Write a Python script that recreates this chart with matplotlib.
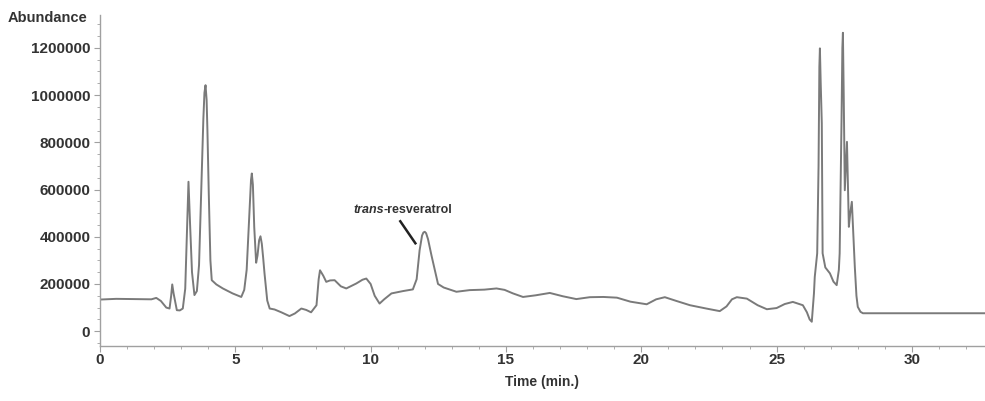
import matplotlib
matplotlib.use("Agg")
import matplotlib.pyplot as plt
from matplotlib.ticker import MultipleLocator

# retention time (min) and abundance
time_min = [0.0, 0.6, 1.2, 1.9, 2.08, 2.25, 2.45, 2.57, 2.63, 2.67, 2.72, 2.84, 2.95,
            3.06, 3.15, 3.22, 3.27, 3.33, 3.40, 3.49, 3.58, 3.66, 3.74, 3.82, 3.86,
            3.90, 3.94, 3.97, 4.02, 4.08, 4.13, 4.30, 4.54, 4.90, 5.22, 5.33, 5.42,
            5.52, 5.58, 5.61, 5.65, 5.70, 5.77, 5.82, 5.88, 5.93, 5.98, 6.03, 6.08,
            6.18, 6.27, 6.45, 6.70, 7.00, 7.20, 7.44, 7.62, 7.80, 8.00, 8.08, 8.13,
            8.25, 8.36, 8.50, 8.67, 8.90, 9.10, 9.47, 9.70, 9.84, 10.00, 10.15, 10.33,
            10.50, 10.77, 11.20, 11.56, 11.70, 11.81, 11.90, 11.95, 12.00, 12.05,
            12.12, 12.25, 12.37, 12.49, 12.70, 13.17, 13.66, 14.20, 14.65, 14.95,
            15.26, 15.63, 16.10, 16.62, 17.10, 17.60, 18.10, 18.60, 19.10, 19.60,
            20.20, 20.55, 20.87, 21.30, 21.80, 22.40, 22.90, 23.15, 23.35, 23.53,
            23.90, 24.30, 24.64, 25.00, 25.30, 25.60, 25.97, 26.12, 26.22, 26.30,
            26.38, 26.41, 26.50, 26.55, 26.58, 26.60, 26.63, 26.67, 26.70, 26.80,
            26.97, 27.10, 27.22, 27.30, 27.33, 27.40, 27.43, 27.45, 27.48, 27.52,
            27.56, 27.60, 27.64, 27.67, 27.72, 27.78, 27.83, 27.89, 27.95, 28.00,
            28.10, 28.19, 32.70]
abundance_k = [134, 137, 136, 135, 141, 128, 100, 96, 150, 198, 160, 89, 88,
               96, 180, 450, 633, 450, 250, 153, 170, 280, 583, 900, 1010,
               1042, 980, 850, 583, 300, 216, 198, 181, 160, 145, 175, 260,
               500, 640, 668, 620, 440, 290, 320, 385, 402, 370, 310, 244,
               130, 96, 92, 80, 64, 75, 96, 90, 80, 110, 220, 258,
               235, 209, 215, 216, 190, 181, 202, 218, 223, 200, 150, 117,
               135, 160, 170, 177, 220, 343, 405, 418, 421, 415,
               390, 320, 260, 200, 185, 167, 174, 176, 181, 175,
               160, 145, 152, 162, 148, 136, 144, 145, 142, 125,
               114, 135, 144, 128, 110, 96, 85, 105, 135, 144,
               138, 110, 93, 98, 115, 124, 110, 80, 50, 40,
               160, 230, 330, 700, 1120, 1198, 1050, 880, 330, 270,
               245, 210, 195, 260, 330, 900, 1200, 1264, 1000, 597,
               700, 802, 600, 442, 500, 548, 420, 272, 150, 103,
               82, 76, 76]
abundance = [a * 1000 for a in abundance_k]

x_ticks = [0, 5, 10, 15, 20, 25, 30]
y_ticks = [0, 200000, 400000, 600000, 800000, 1000000, 1200000]

text_col = "#333333"
axis_col = "#a0a0a0"
font = "Liberation Sans"

fig = plt.figure(figsize=(9.85, 4.01), dpi=100)
ax = fig.add_axes([0.1015, 0.137, 0.8985, 0.826])

ax.plot(time_min, abundance, color="#7a7a7a", lw=1.4)

# annotation for the resveratrol peak
ax.plot([11.07, 11.68], [470000, 368000], color="#222222", lw=1.8,
        solid_capstyle="butt")
t1 = ax.text(9.35, 490000, "trans", fontsize=9, fontweight="bold",
             fontstyle="italic", color=text_col, ha="left", va="bottom",
             family=font)
ax.annotate("-resveratrol", xy=(1, 0), xycoords=t1, fontsize=9,
            fontweight="bold", color=text_col, ha="left", va="bottom",
            family=font)

ax.set_xlim(0, 32.7)
ax.set_ylim(-63000, 1340000)
ax.set_xticks(x_ticks)
ax.set_yticks(y_ticks)
ax.set_yticklabels([str(v) for v in y_ticks])
ax.xaxis.set_minor_locator(MultipleLocator(1))
ax.yaxis.set_minor_locator(MultipleLocator(50000))

for side in ["top", "right"]:
    ax.spines[side].set_visible(False)
for side in ["left", "bottom"]:
    ax.spines[side].set_color(axis_col)
    ax.spines[side].set_linewidth(1.0)

ax.tick_params(which="major", length=4, color=axis_col, pad=3)
ax.tick_params(axis="x", which="major", pad=1)
ax.tick_params(which="minor", length=2.5, color=axis_col)
for lab in ax.get_xticklabels() + ax.get_yticklabels():
    lab.set_fontweight("bold")
    lab.set_fontsize(11)
    lab.set_color(text_col)
    lab.set_family(font)

ax.set_xlabel("Time (min.)", fontsize=10, fontweight="bold", color=text_col,
              family=font, labelpad=6)
fig.text(0.008, 0.955, "Abundance", fontsize=10.5, fontweight="bold",
         color=text_col, family=font, ha="left", va="center")

fig.savefig("out.png", dpi=100)
